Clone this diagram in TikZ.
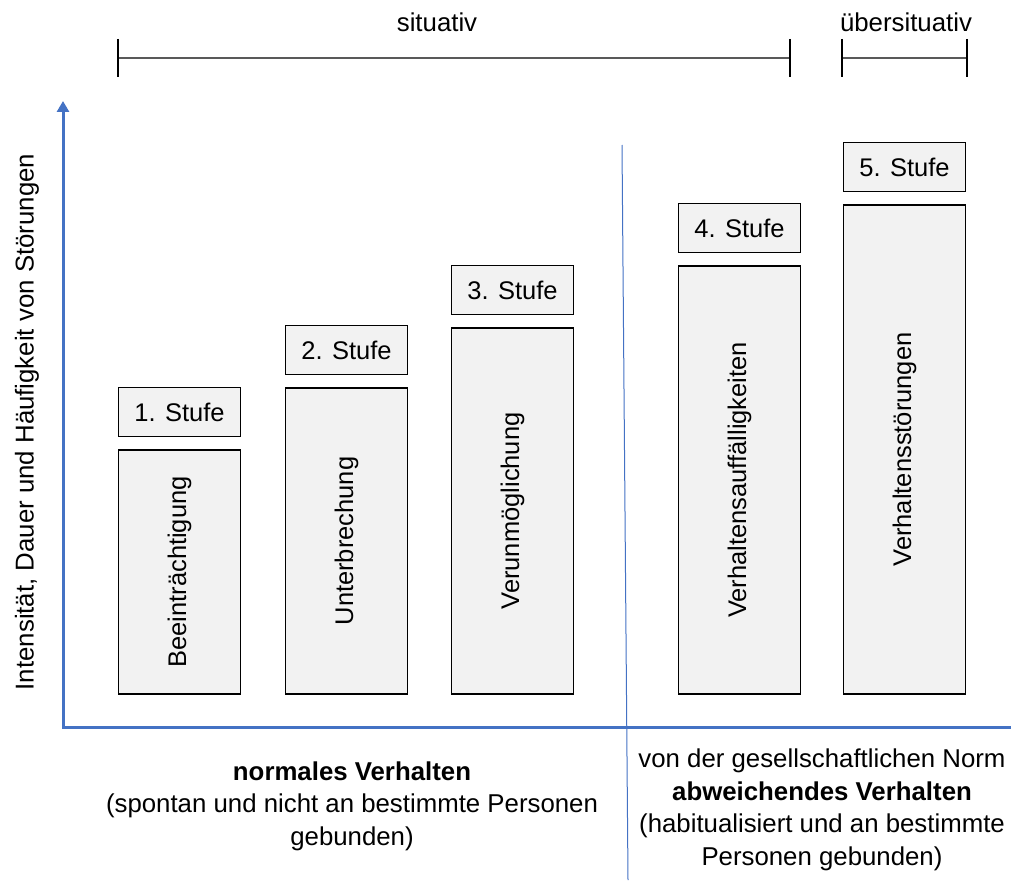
\documentclass[tikz,border=0pt]{standalone}
\usepackage{fontspec}
\setmainfont{Liberation Sans}
\usetikzlibrary{arrows.meta,positioning,calc}
\definecolor{Axis}{HTML}{4472C4}
\definecolor{Boxfill}{HTML}{F2F2F2}
\definecolor{Rule}{HTML}{595959}
\tikzset{
  stufe/.style={draw=black,line width=1.5pt,fill=Boxfill,minimum width=122pt,minimum height=49pt,inner sep=0pt,font=\fontsize{25.5}{30}\selectfont},
  bar/.style={draw=black,line width=1.5pt,fill=Boxfill,rotate=90,minimum height=122pt,inner sep=0pt,font=\fontsize{25.5}{30}\selectfont},
  txt/.style={font=\fontsize{25.8}{32.5}\selectfont,align=center,inner sep=0pt},
}

\begin{document}
\begin{tikzpicture}[x=1pt,y=-1pt,
 axis/.style={draw=Axis,line width=3pt},
 divider/.style={draw=Axis,line width=1pt},
 span/.style={draw=Rule,line width=1.5pt},
 tick/.style={draw=black,line width=1.2pt}]
\useasboundingbox (0,0) rectangle (1011,880);
% range brackets on top
\coordinate (sl) at (118,58); \coordinate (sr) at (790,58);
\coordinate (ul) at (842,58); \coordinate (ur) at (967,58);
\draw[span] (sl)--(sr); \draw[span] (ul)--(ur);
\draw[tick] ($(sl)+(0,-19)$)--($(sl)+(0,19)$);
\draw[tick] ($(sr)+(0,-19)$)--($(sr)+(0,19)$);
\draw[tick] ($(ul)+(0,-19)$)--($(ul)+(0,19)$);
\draw[tick] ($(ur)+(0,-19)$)--($(ur)+(0,19)$);
\node[txt] (sit) at (437,22) {situativ};
\node[txt] (ueb) at (906,22) {übersituativ};
% axes and split line
\coordinate (o) at (63,727);
\coordinate (ytop) at (63,101);
\coordinate (xend) at (1011,727);
\draw[axis,{Triangle[length=11pt,width=12pt]}-] (ytop)--(o)--(xend);
\coordinate (dtop) at (622,145); \coordinate (dbot) at (628,880);
\draw[divider] (dtop)--(dbot);
\node[txt,rotate=90] (ylab) at (27,422) {Intensität, Dauer und Häufigkeit von Störungen};
% stages
\node[bar,minimum width=244pt] (b1) at (179.5,572) {Beeinträchtigung};
\node[bar,minimum width=306pt] (b2) at (346.5,541) {Unterbrechung};
\node[bar,minimum width=366pt] (b3) at (512.5,511) {Verunmöglichung};
\node[bar,minimum width=428pt] (b4) at (739.5,480) {Verhaltensauffälligkeiten};
\node[bar,minimum width=489pt] (b5) at (904.5,449.5) {Verhaltensstörungen};
\node[stufe,above=12pt of b1.east] (s1) {1. Stufe};
\node[stufe,above=12pt of b2.east] (s2) {2. Stufe};
\node[stufe,above=12pt of b3.east] (s3) {3. Stufe};
\node[stufe,above=12pt of b4.east] (s4) {4. Stufe};
\node[stufe,above=12pt of b5.east] (s5) {5. Stufe};
% captions below the axis
\node[txt] (norm) at (352,806) {\textbf{normales Verhalten}\\(spontan und nicht an bestimmte Personen\\gebunden)};
\node[txt] (abw) at (822,810) {von der gesellschaftlichen Norm\\\textbf{abweichendes Verhalten}\\(habitualisiert und an bestimmte\\Personen gebunden)};
\end{tikzpicture}
\end{document}
